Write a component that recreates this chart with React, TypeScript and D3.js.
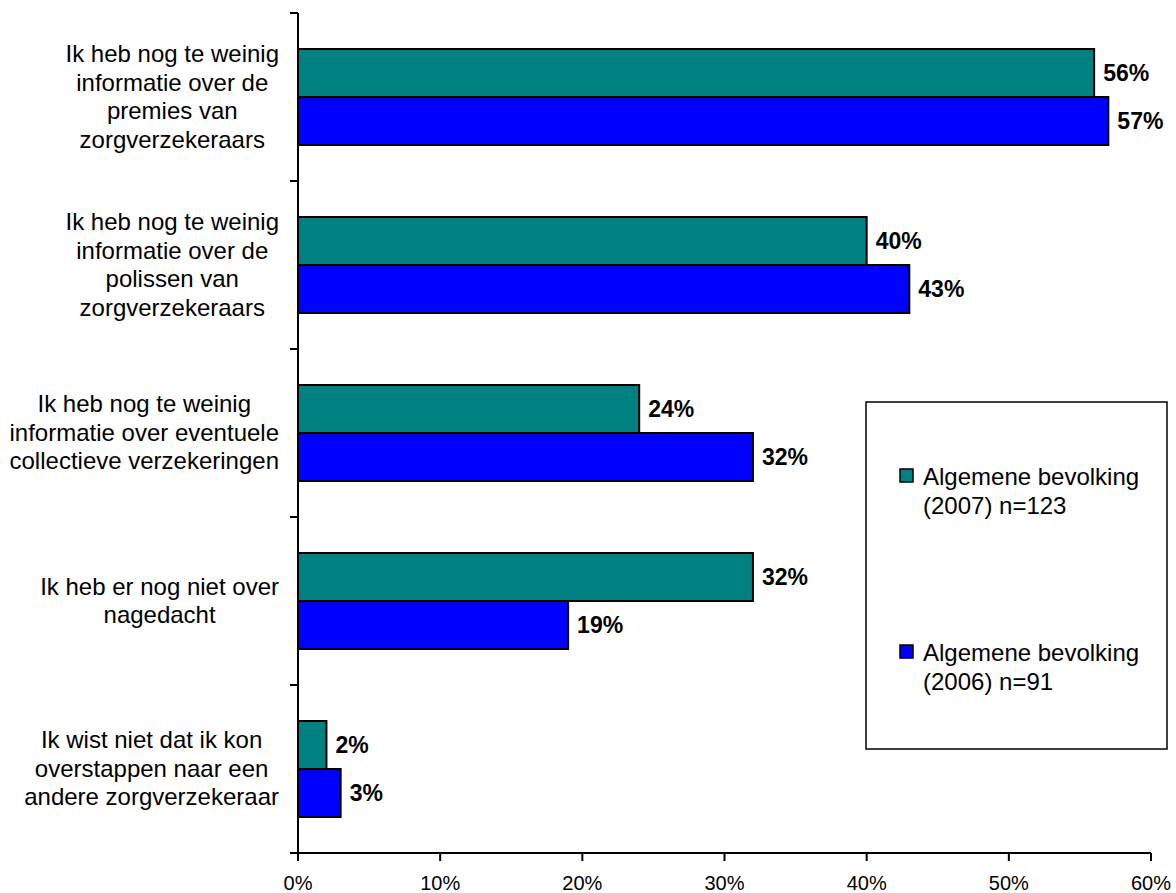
import React, { useEffect, useRef } from "react";
import * as d3 from "d3";

const categories: string[][] = [
  ["Ik heb nog te weinig", "informatie over de", "premies van", "zorgverzekeraars"],
  ["Ik heb nog te weinig", "informatie over de", "polissen van", "zorgverzekeraars"],
  ["Ik heb nog te weinig", "informatie over eventuele", "collectieve verzekeringen"],
  ["Ik heb er nog niet over", "nagedacht"],
  ["Ik wist niet dat ik kon", "overstappen naar een", "andere zorgverzekeraar"],
];
const values2007 = [56, 40, 24, 32, 2];
const values2006 = [57, 43, 32, 19, 3];
const xTicks = [0, 10, 20, 30, 40, 50, 60];
const seriesNames = ["2007", "2006"];
const legendLines: string[][] = [
  ["Algemene bevolking", "(2007) n=123"],
  ["Algemene bevolking", "(2006) n=91"],
];
const colors = ["#008080", "#0000FF"];

const W = 1176;
const H = 893;
const FONT = "'Liberation Sans', Arial, Helvetica, sans-serif";

export default function App() {
  const ref = useRef<SVGSVGElement | null>(null);

  useEffect(() => {
    const svg = d3.select(ref.current);
    svg.selectAll("*").remove();

    const x0 = 298, x1 = 1151, yTop = 13, yBot = 853;
    const x = d3.scaleLinear().domain([0, 60]).range([x0, x1]);
    const y = d3
      .scaleBand<number>()
      .domain(d3.range(categories.length))
      .range([yTop, yBot])
      .paddingInner(72 / 168)
      .paddingOuter(36 / 168);
    const sub = d3.scaleBand<string>().domain(seriesNames).range([0, y.bandwidth()]);
    const step = y.step();

    const g = svg.append("g");

    // bars
    const series = [values2007, values2006];
    series.forEach((vals, si) => {
      g.selectAll(`.bar${si}`)
        .data(vals)
        .enter()
        .append("rect")
        .attr("x", x(0))
        .attr("y", (_d, i) => (y(i) as number) + (sub(seriesNames[si]) as number))
        .attr("width", (d) => x(d) - x(0))
        .attr("height", sub.bandwidth())
        .attr("fill", colors[si])
        .attr("stroke", "#000")
        .attr("stroke-width", 2);
      g.selectAll(`.lab${si}`)
        .data(vals)
        .enter()
        .append("text")
        .attr("x", (d) => x(d) + 9)
        .attr("y", (_d, i) => (y(i) as number) + (sub(seriesNames[si]) as number) + sub.bandwidth() / 2)
        .attr("dy", "0.36em")
        .attr("font-family", FONT)
        .attr("font-size", 23)
        .attr("font-weight", "bold")
        .attr("fill", "#000")
        .text((d) => `${d}%`);
    });

    // y axis line and ticks
    g.append("line")
      .attr("x1", x0).attr("x2", x0).attr("y1", yTop).attr("y2", yBot)
      .attr("stroke", "#000").attr("stroke-width", 2);
    d3.range(categories.length + 1).forEach((i) => {
      const yy = yTop + i * step;
      g.append("line")
        .attr("x1", x0 - 8).attr("x2", x0).attr("y1", yy).attr("y2", yy)
        .attr("stroke", "#000").attr("stroke-width", 2);
    });

    // x axis
    g.append("line")
      .attr("x1", x0 - 8).attr("x2", x1).attr("y1", yBot).attr("y2", yBot)
      .attr("stroke", "#000").attr("stroke-width", 2);
    xTicks.forEach((t) => {
      g.append("line")
        .attr("x1", x(t)).attr("x2", x(t)).attr("y1", yBot).attr("y2", yBot + 8)
        .attr("stroke", "#000").attr("stroke-width", 2);
      g.append("text")
        .attr("x", x(t)).attr("y", 890)
        .attr("text-anchor", "middle")
        .attr("font-family", FONT).attr("font-size", 20)
        .attr("fill", "#000")
        .text(`${t}%`);
    });

    // category labels: block right-aligned, lines centered within block
    const lh = 28.5;
    const rightEdge = 279;
    categories.forEach((lines, i) => {
      const cy = (y(i) as number) + y.bandwidth() / 2;
      const texts = lines.map((ln, j) =>
        g.append("text")
          .attr("y", cy + (j - (lines.length - 1) / 2) * lh)
          .attr("dy", "0.33em")
          .attr("text-anchor", "middle")
          .attr("font-family", FONT).attr("font-size", 24)
          .attr("fill", "#000")
          .text(ln)
      );
      const maxW = d3.max(texts, (t) => (t.node() as SVGTextElement).getComputedTextLength()) || 0;
      texts.forEach((t) => t.attr("x", rightEdge - maxW / 2));
    });

    // legend
    g.append("rect")
      .attr("x", 866).attr("y", 402).attr("width", 301).attr("height", 347)
      .attr("fill", "#fff").attr("stroke", "#000").attr("stroke-width", 1.5);
    const legendY = [485, 661];
    legendLines.forEach((lines, i) => {
      g.append("rect")
        .attr("x", 900).attr("y", legendY[i] - 16).attr("width", 13).attr("height", 13)
        .attr("fill", colors[i]).attr("stroke", "#000").attr("stroke-width", 1.5);
      lines.forEach((ln, j) => {
        g.append("text")
          .attr("x", 923).attr("y", legendY[i] + j * 28.5)
          .attr("font-family", FONT).attr("font-size", 24)
          .attr("fill", "#000")
          .text(ln);
      });
    });
  }, []);

  return (
    <svg
      ref={ref}
      width={W}
      height={H}
      style={{ position: "absolute", left: 0, top: 0, background: "#fff" }}
    />
  );
}
